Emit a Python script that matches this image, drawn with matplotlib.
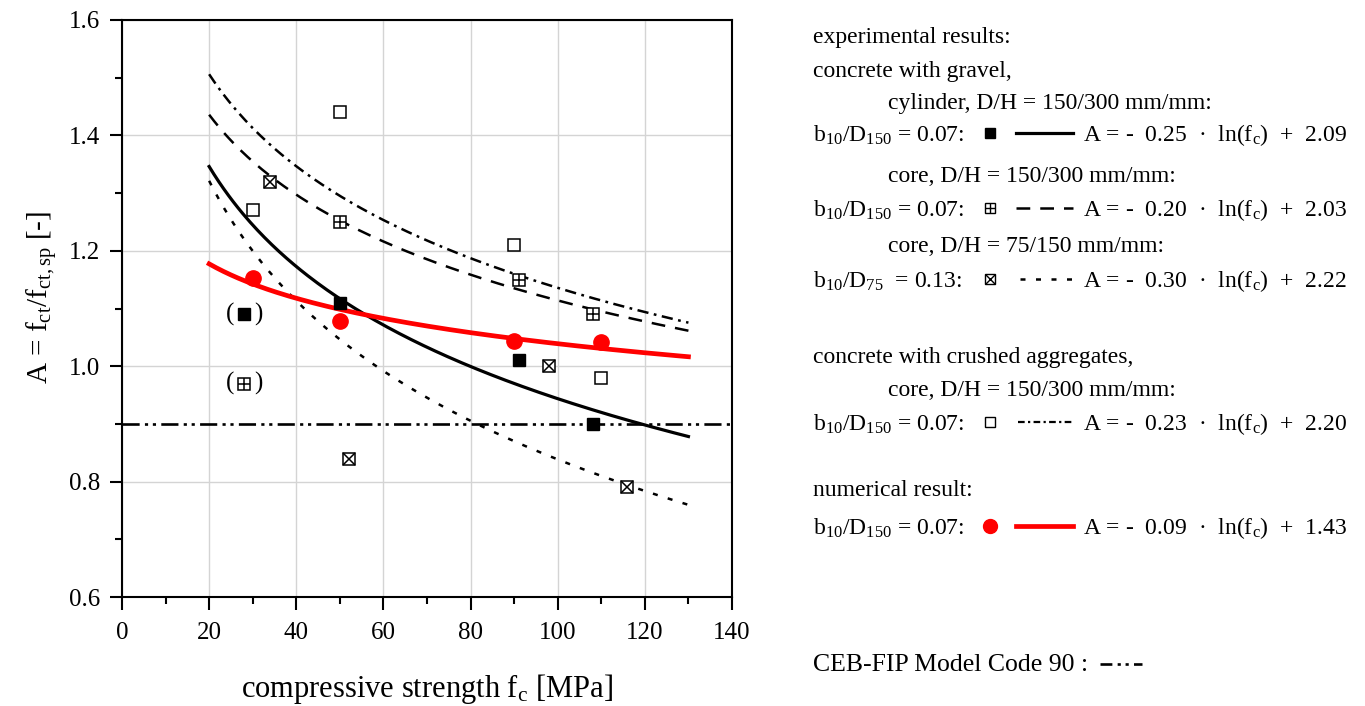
import numpy as np
import matplotlib
matplotlib.use("Agg")
import matplotlib.pyplot as plt

plt.rcParams['font.family'] = ['Liberation Serif', 'DejaVu Serif']
plt.rcParams['mathtext.fontset'] = 'custom'
plt.rcParams['mathtext.rm'] = 'Liberation Serif'
plt.rcParams['mathtext.it'] = 'Liberation Serif:italic'
plt.rcParams['mathtext.bf'] = 'Liberation Serif:bold'

# experimental results, concrete with gravel
cyl_fc = [28, 50, 91, 108]
cyl_A = [1.09, 1.11, 1.01, 0.90]
core150_fc = [28, 50, 91, 108]
core150_A = [0.97, 1.25, 1.15, 1.09]
core75_fc = [34, 52, 98, 116]
core75_A = [1.32, 0.84, 1.00, 0.79]
# concrete with crushed aggregates
crushed_fc = [30, 50, 90, 110]
crushed_A = [1.27, 1.44, 1.21, 0.98]
# numerical result
num_fc = [30, 50, 90, 110]
num_A = [1.153, 1.078, 1.044, 1.042]
# points shown in brackets (not used in fit)
bracket_fc = [28, 28]
bracket_A = [1.09, 0.97]

# fit curves A = a*ln(fc) + b
fit_range = (20, 130)
cyl_fit = (-0.25, 2.095)
core150_fit = (-0.20, 2.035)
core75_fit = (-0.30, 2.22)
crushed_fit = (-0.23, 2.195)
num_fit = (-0.086, 1.435)
ceb_A = 0.9

fig = plt.figure(figsize=(13.65, 7.06), dpi=100)
ax = fig.add_axes([122 / 1365, 109 / 706, 610 / 1365, 577 / 706])

fc = np.linspace(fit_range[0], fit_range[1], 200)
ax.plot(fc, cyl_fit[0] * np.log(fc) + cyl_fit[1], color='black', lw=2.3, zorder=3)
ax.plot(fc, core150_fit[0] * np.log(fc) + core150_fit[1], color='black', lw=1.8,
        dashes=(5.5, 4), zorder=3)
ax.plot(fc, core75_fit[0] * np.log(fc) + core75_fit[1], color='black', lw=1.8,
        dashes=(2, 4.2), zorder=3)
ax.plot(fc, crushed_fit[0] * np.log(fc) + crushed_fit[1], color='black', lw=1.8,
        dashes=(4.5, 2.2, 1.1, 2.2), zorder=3)
ax.plot(fc, num_fit[0] * np.log(fc) + num_fit[1], color='red', lw=3.4, zorder=3)
ax.axhline(ceb_A, color='black', lw=1.9, dashes=(6.5, 2, 1.2, 1.8, 1.2, 2), zorder=3)

ms = 9
ax.plot(cyl_fc, cyl_A, 's', ms=ms, mfc='black', mec='black', ls='none', zorder=4)
ax.plot(core150_fc, core150_A, 's', ms=ms, mfc='white', mec='black', mew=1.1, ls='none', zorder=4)
ax.plot(core150_fc, core150_A, '+', ms=ms, mec='black', mew=1.1, ls='none', zorder=5)
ax.plot(core75_fc, core75_A, 's', ms=ms, mfc='white', mec='black', mew=1.1, ls='none', zorder=4)
ax.plot(core75_fc, core75_A, 'x', ms=ms, mec='black', mew=1.1, ls='none', zorder=5)
ax.plot(crushed_fc, crushed_A, 's', ms=ms, mfc='white', mec='black', mew=1.1, ls='none', zorder=4)
ax.plot(num_fc, num_A, 'o', ms=11, mfc='red', mec='red', ls='none', zorder=4)

for x, y in zip(bracket_fc, bracket_A):
    ax.annotate('(', (x, y), xytext=(-10, 0), textcoords='offset points',
                ha='center', va='center', fontsize=18)
    ax.annotate(')', (x, y), xytext=(10, 0), textcoords='offset points',
                ha='center', va='center', fontsize=18)

ax.set_xlim(0, 140)
ax.set_ylim(0.6, 1.6)
ax.set_xticks(np.arange(0, 141, 20))
ax.set_xticks(np.arange(0, 141, 10), minor=True)
ax.set_yticks(np.arange(0.6, 1.61, 0.2))
ax.set_yticks(np.arange(0.6, 1.61, 0.1), minor=True)
ax.set_yticklabels([f"{v:.1f}" for v in np.arange(0.6, 1.61, 0.2)])
ax.grid(True, which='major', color='#d4d4d4', lw=1.0)
ax.set_axisbelow(True)
ax.tick_params(which='major', direction='out', length=9, width=1.5, labelsize=18, pad=7)
ax.tick_params(axis='x', which='major', pad=9)
ax.tick_params(which='minor', direction='out', length=5, width=1.5)
for s in ax.spines.values():
    s.set_linewidth(1.5)

ax.set_xlabel(r"compressive strength f$_\mathrm{c}$ [MPa]", fontsize=22, labelpad=20)
ax.set_ylabel(r"A = f$_\mathrm{ct}$/f$_\mathrm{ct,sp}$ [-]", fontsize=21)
ax.yaxis.set_label_coords(-0.102, 0.52)

# legend drawn in pixel coordinates on an overlay axes
lax = fig.add_axes([0, 0, 1, 1], facecolor='none')
lax.set_xlim(0, 1365)
lax.set_ylim(706, 0)
lax.axis('off')

fs = 17
x0, x1 = 813, 888
mx, lx0, lx1, ex = 990, 1016, 1073, 1083

def txt(x, y, s, size=fs):
    lax.text(x, y, s, fontsize=size, va='center', ha='left')

b150 = r"b$_\mathrm{10}$/D$_\mathrm{150}$ = 0.07:"
b75 = r"b$_\mathrm{10}$/D$_\mathrm{75}$  = 0.13:"

def eq(a, b):
    return r"A = -  %s  ·  ln(f$_\mathrm{c}$)  +  %s" % (a, b)

txt(x0, 38, "experimental results:")
txt(x0, 71, "concrete with gravel,")
txt(x1, 103, "cylinder, D/H = 150/300 mm/mm:")
txt(x0, 135, b150)
lax.plot(mx, 133, 's', ms=7.5, mfc='black', mec='black')
lax.plot([lx0, lx1], [133, 133], color='black', lw=2.3)
txt(ex, 135, eq("0.25", "2.09"))

txt(x1, 176, "core, D/H = 150/300 mm/mm:")
txt(x0, 210, b150)
lax.plot(mx, 208, 's', ms=7, mfc='white', mec='black', mew=1)
lax.plot(mx, 208, '+', ms=7, mec='black', mew=1)
lax.plot([lx0, lx1], [208, 208], color='black', lw=1.8, dashes=(5.5, 4))
txt(ex, 210, eq("0.20", "2.03"))

txt(x1, 246, "core, D/H = 75/150 mm/mm:")
txt(x0, 281, b75)
lax.plot(mx, 279, 's', ms=7, mfc='white', mec='black', mew=1)
lax.plot(mx, 279, 'x', ms=7, mec='black', mew=1)
lax.plot([lx0 + 4, lx1], [279, 279], color='black', lw=1.8, dashes=(2, 4.2))
txt(ex, 281, eq("0.30", "2.22"))

txt(x0, 357, "concrete with crushed aggregates,")
txt(x1, 390, "core, D/H = 150/300 mm/mm:")
txt(x0, 424, b150)
lax.plot(mx, 422, 's', ms=6.5, mfc='white', mec='black', mew=1)
lax.plot([lx0 + 2, lx1], [422, 422], color='black', lw=1.6, dashes=(3, 1.5, 1, 1.5))
txt(ex, 424, eq("0.23", "2.20"))

txt(x0, 491, "numerical result:")
txt(x0, 528, b150)
lax.plot(mx, 526, 'o', ms=10, mfc='red', mec='red')
lax.plot([lx0, lx1], [526, 526], color='red', lw=3.4)
txt(ex, 528, eq("0.09", "1.43"))

txt(x0, 665, "CEB-FIP Model Code 90 :", size=18.5)
lax.plot([1100, 1142], [664, 664], color='black', lw=1.9, dashes=(4.5, 2, 1.2, 1.8, 1.2, 2))

fig.savefig("out.png", dpi=100)
